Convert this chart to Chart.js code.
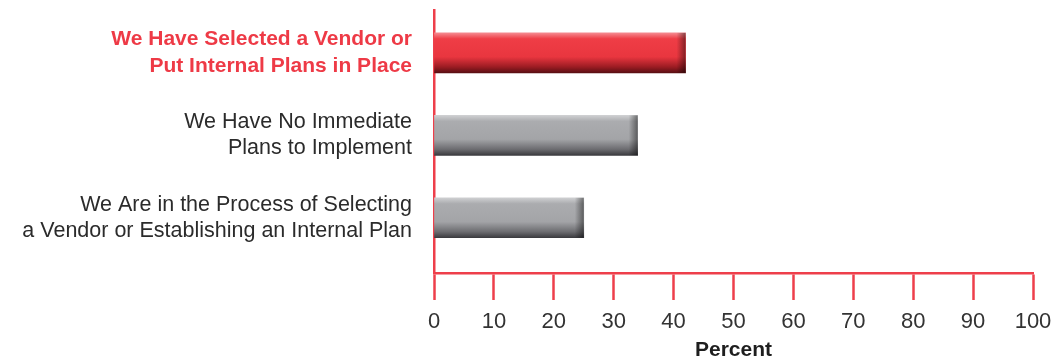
<!DOCTYPE html>
<html>
<head>
<meta charset="utf-8">
<script src="https://cdn.jsdelivr.net/npm/chart.js@4/dist/chart.umd.min.js"></script>
<style>
  html, body { margin: 0; padding: 0; background: #fff; }
  #wrap { width: 1059px; height: 364px; position: relative; }
</style>
</head>
<body>
<div id="wrap"><canvas id="chart"></canvas></div>
<script>
// Data
const CATEGORIES = [
  ["We Have Selected a Vendor or", "Put Internal Plans in Place"],
  ["We Have No Immediate", "Plans to Implement"],
  ["We Are in the Process of Selecting", "a Vendor or Establishing an Internal Plan"]
];
const VALUES = [42, 34, 25];
const X_TICKS = [0, 10, 20, 30, 40, 50, 60, 70, 80, 90, 100];
const HIGHLIGHT = [true, false, false];

const AXIS_RED = "#ee3f4b";
const FONT = "'Liberation Sans', Arial, sans-serif";

// vertical shading for each bar
function barFill(ctx) {
  const chart = ctx.chart;
  const y = chart.scales.y;
  const hi = HIGHLIGHT[ctx.dataIndex];
  if (ctx.type !== "data" || !y || !ctx.raw) return hi ? "#ee3a43" : "#a7a8ab";
  const c = y.getPixelForValue(ctx.raw.y);
  if (!Number.isFinite(c)) return hi ? "#ee3a43" : "#a7a8ab";
  const g = chart.ctx.createLinearGradient(0, c - 20, 0, c + 20);
  if (hi) {
    g.addColorStop(0, "#f58a90");
    g.addColorStop(0.15, "#ef3d46");
    g.addColorStop(0.6, "#e9363f");
    g.addColorStop(0.85, "#9c1c23");
    g.addColorStop(1, "#5a0f13");
  } else {
    g.addColorStop(0, "#cfd0d2");
    g.addColorStop(0.15, "#abacaf");
    g.addColorStop(0.6, "#a3a4a7");
    g.addColorStop(0.85, "#6c6c70");
    g.addColorStop(1, "#3b3b3f");
  }
  return g;
}

// darker right end of the bars
const endShade = {
  id: "endShade",
  afterDatasetsDraw(chart) {
    const c = chart.ctx;
    chart.getDatasetMeta(0).data.forEach(bar => {
      const w = 9;
      const g = c.createLinearGradient(bar.x - w, 0, bar.x, 0);
      g.addColorStop(0, "rgba(0,0,0,0)");
      g.addColorStop(1, "rgba(0,0,0,0.45)");
      c.save();
      c.fillStyle = g;
      c.fillRect(bar.x - w, bar.y - bar.height / 2, w, bar.height);
      c.restore();
    });
  }
};

new Chart(document.getElementById("chart"), {
  type: "bar",
  data: {
    datasets: [{
      data: VALUES.map((v, i) => ({ x: v, y: i })),
      backgroundColor: barFill,
      borderWidth: 0,
      barThickness: 40
    }]
  },
  plugins: [endShade],
  options: {
    indexAxis: "y",
    responsive: true,
    maintainAspectRatio: false,
    animation: false,
    layout: { padding: { top: 10, right: 26, left: 0, bottom: 0 } },
    plugins: { legend: { display: false }, tooltip: { enabled: false } },
    scales: {
      x: {
        type: "linear",
        position: "bottom",
        min: 0,
        max: 100,
        afterBuildTicks: s => { s.ticks = X_TICKS.map(v => ({ value: v })); },
        afterFit: s => { s.height = 91; s.paddingLeft = 0; s.paddingRight = 0; },
        grid: {
          drawOnChartArea: false,
          drawTicks: true,
          tickLength: 27,
          tickWidth: 2.5,
          tickColor: AXIS_RED
        },
        border: { display: true, color: AXIS_RED, width: 2.5 },
        ticks: {
          color: "#333",
          padding: 9,
          maxRotation: 0,
          font: { family: FONT, size: 22 }
        },
        title: {
          display: true,
          text: "Percent",
          color: "#1e1e1e",
          padding: { top: 0, bottom: 1 },
          font: { family: FONT, size: 21, weight: "bold" }
        }
      },
      y: {
        type: "linear",
        offset: false,
        reverse: true,
        min: -0.52,
        max: 2.67,
        afterBuildTicks: s => { s.ticks = CATEGORIES.map((c, i) => ({ value: i })); },
        afterFit: s => { s.width = 434; s.paddingTop = 0; s.paddingBottom = 0; },
        grid: { display: false, drawTicks: false, offset: false },
        border: { display: true, color: AXIS_RED, width: 2.5 },
        ticks: {
          padding: 22,
          crossAlign: "near",
          callback: v => CATEGORIES[v],
          color: c => HIGHLIGHT[c.index] ? "#ee3a46" : "#2b2b2b",
          font: c => ({
            family: FONT,
            size: HIGHLIGHT[c.index] ? 21 : 21.5,
            weight: HIGHLIGHT[c.index] ? "bold" : "normal",
            lineHeight: HIGHLIGHT[c.index] ? 1.3 : 1.2
          })
        }
      }
    }
  }
});
</script>
</body>
</html>
